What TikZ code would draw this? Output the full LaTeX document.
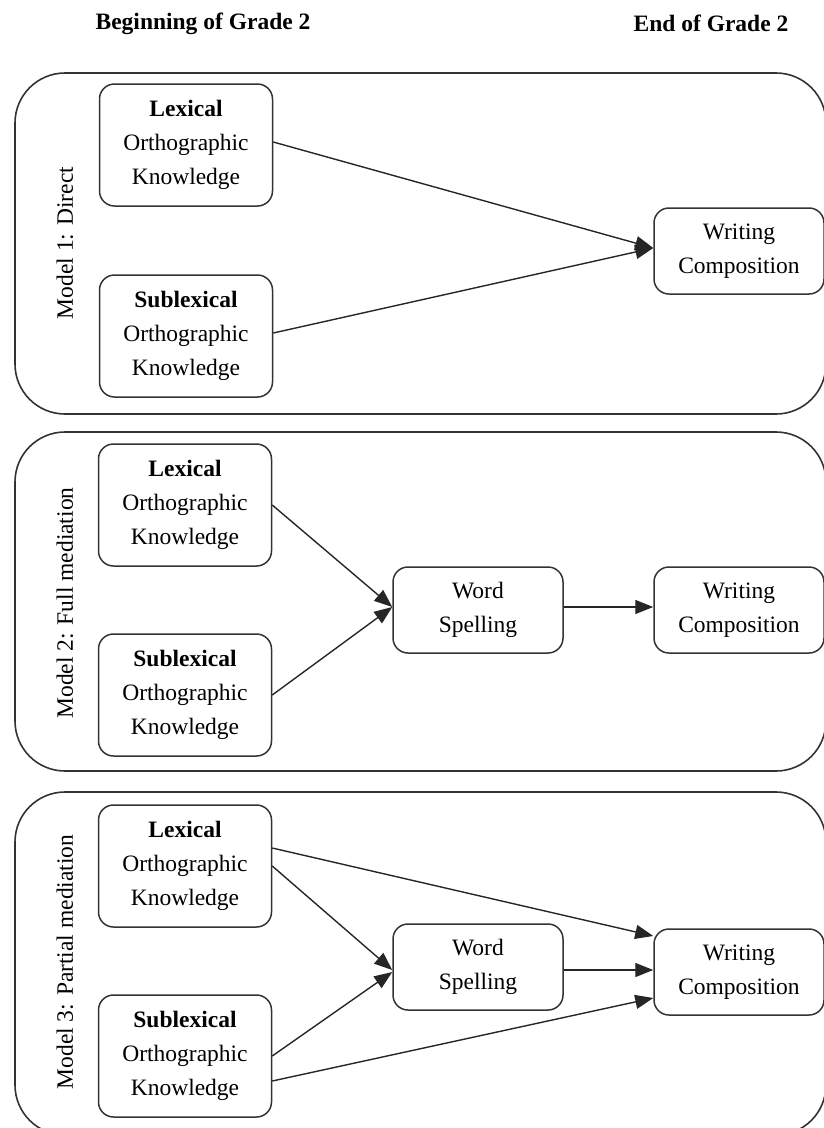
\documentclass[tikz,border=0pt]{standalone}
\usepackage{fontspec}
\setmainfont{Liberation Serif}
\usetikzlibrary{arrows.meta}
\begin{document}
\begin{tikzpicture}[x=1pt,y=-1pt,line join=round,
    font=\fontsize{23.5}{34}\selectfont,
    panel/.style={draw=black!80,line width=1.6pt,rounded corners=50pt},
    orthobox/.style={draw=black!80,line width=1.5pt,rounded corners=15pt,align=center,minimum width=173pt,minimum height=122pt},
    outbox/.style={draw=black!80,line width=1.5pt,rounded corners=15pt,align=center,minimum width=170pt,minimum height=86pt},
    modellabel/.style={rotate=90,anchor=center},
    >={Triangle[length=18pt,width=14pt]}, arr/.style={->,line width=1.4pt,draw=black!85}]
  \useasboundingbox (0,0) rectangle (824,1128);
  \node (begin) at (203,24) {\textbf{Beginning of Grade 2}};
  \node (end) at (711,23) {\textbf{End of Grade 2}};

  \draw [panel] (15,73) rectangle (826,414);
  \node [modellabel] (m1) at (65,243) {Model 1: Direct};
  \node [orthobox] (lex1) at (186,145) {\textbf{Lexical}\\Orthographic\\Knowledge};
  \node [orthobox] (sub1) at (186,336) {\textbf{Sublexical}\\Orthographic\\Knowledge};
  \node [outbox] (wc1) at (739,251) {Writing\\Composition};
  \draw [arr] ([yshift=3pt]lex1.east) -- ([yshift=3pt]wc1.west);
  \draw [arr] ([yshift=3pt]sub1.east) -- ([yshift=3pt]wc1.west);

  \draw [panel] (15,432) rectangle (826,771);
  \node [modellabel] (m2) at (65,603) {Model 2: Full mediation};
  \node [orthobox] (lex2) at (185,505) {\textbf{Lexical}\\Orthographic\\Knowledge};
  \node [orthobox] (sub2) at (185,695) {\textbf{Sublexical}\\Orthographic\\Knowledge};
  \node [outbox] (ws2) at (478,610) {Word\\Spelling};
  \node [outbox] (wc2) at (739,610) {Writing\\Composition};
  \draw [arr] (lex2.east) -- ([yshift=3pt]ws2.west);
  \draw [arr] (sub2.east) -- ([yshift=3pt]ws2.west);
  \draw [arr] ([yshift=3pt]ws2.east) -- ([yshift=3pt]wc2.west);

  \draw [panel] (15,792) rectangle (826,1135);
  \node [modellabel] (m3) at (65,962) {Model 3: Partial mediation};
  \node [orthobox] (lex3) at (185,866) {\textbf{Lexical}\\Orthographic\\Knowledge};
  \node [orthobox] (sub3) at (185,1056) {\textbf{Sublexical}\\Orthographic\\Knowledge};
  \node [outbox] (ws3) at (478,967) {Word\\Spelling};
  \node [outbox] (wc3) at (739,972) {Writing\\Composition};
  \draw [arr] ([yshift=18pt]lex3.east) -- ([yshift=36pt]wc3.west);
  \draw [arr] (lex3.east) -- ([yshift=-3pt]ws3.west);
  \draw [arr] (sub3.east) -- ([yshift=-5pt]ws3.west);
  \draw [arr] ([yshift=-25pt]sub3.east) -- ([yshift=-26pt]wc3.west);
  \draw [arr] ([yshift=-3pt]ws3.east) -- ([yshift=2pt]wc3.west);
\end{tikzpicture}
\end{document}
